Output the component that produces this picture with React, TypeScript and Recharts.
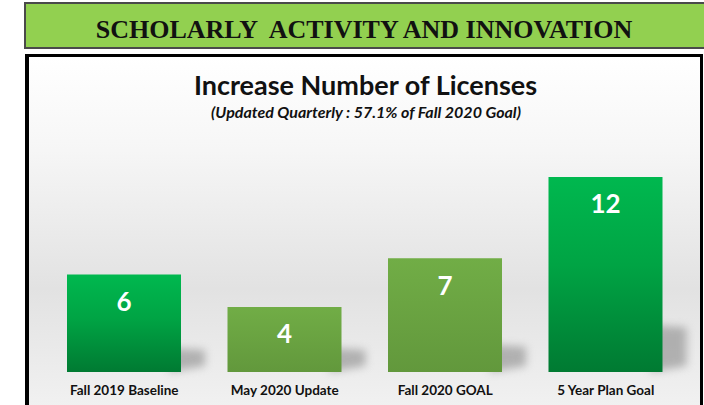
import React from "react";
import { BarChart, Bar, XAxis, YAxis, Cell, LabelList } from "recharts";

const categories = ["Fall 2019 Baseline", "May 2020 Update", "Fall 2020 GOAL", "5 Year Plan Goal"];
const values = [6, 4, 7, 12];
const barStyles = ["bright", "olive", "olive", "bright"];
const yTicks = [0, 12];

const data = categories.map((name, i) => ({ name, value: values[i], style: barStyles[i] }));

const ShadowBar = (props: any) => {
  const { x, y, width, height, fill } = props;
  if (height <= 0) return null;
  const bottom = y + height;
  const sh = Math.max(24, height * 0.24);
  const pts = [
    [x + width - 12, bottom],
    [x + width - 12, bottom - sh],
    [x + width + 24, bottom - sh + 2],
    [x + width + 24, bottom - 6],
  ]
    .map((p) => p.join(","))
    .join(" ");
  return (
    <g>
      <polygon points={pts} fill="#8a8a8a" opacity={0.6} filter="url(#blurShadow)" />
      <rect x={x} y={y} width={width} height={height} fill={fill} />
    </g>
  );
};

const Tick = (props: any) => {
  const { x, y, payload } = props;
  return (
    <text x={x} y={y + 23} textAnchor="middle" fontFamily="Lato" fontWeight={700} fontSize={13.5} fill="#111">
      {payload.value}
    </text>
  );
};

export default function App() {
  return (
    <div style={{ position: "absolute", left: 0, top: 0, width: 704, height: 405, overflow: "hidden", background: "#fff" }}>
      <div
        style={{
          position: "absolute",
          left: 24,
          top: 2,
          width: 690,
          height: 47,
          background: "#92d050",
          border: "2px solid #4a4a4a",
          boxSizing: "border-box",
          borderRight: "none",
        }}
      />
      <div
        style={{
          position: "absolute",
          left: 0,
          top: 6,
          width: 728,
          height: 47,
          display: "flex",
          alignItems: "center",
          justifyContent: "center",
          fontFamily: "'Liberation Serif', serif",
          fontWeight: 700,
          fontSize: 26,
          color: "#111",
          whiteSpace: "pre",
        }}
      >
        {"SCHOLARLY  ACTIVITY AND INNOVATION"}
      </div>
      <div
        style={{
          position: "absolute",
          left: 25,
          top: 54,
          width: 678,
          height: 380,
          boxSizing: "border-box",
          border: "3px solid #000",
          borderLeftWidth: 4,
          background: "linear-gradient(to bottom, #ffffff 0%, #f6f6f6 25%, #e2e2e2 62%, #f4f4f4 100%)",
        }}
      />
      <div
        style={{
          position: "absolute",
          left: 0,
          top: 71,
          width: 731,
          textAlign: "center",
          fontFamily: "Lato",
          fontWeight: 700,
          fontSize: 27,
          lineHeight: "27px",
          color: "#111",
          whiteSpace: "nowrap",
        }}
      >
        Increase Number of Licenses
      </div>
      <div
        style={{
          position: "absolute",
          left: 0,
          top: 104,
          width: 732,
          textAlign: "center",
          fontFamily: "Lato",
          fontWeight: 700,
          fontStyle: "italic",
          fontSize: 16,
          lineHeight: "16px",
          color: "#111",
          whiteSpace: "nowrap",
        }}
      >
        (Updated Quarterly : 57.1% of Fall 2020 Goal)
      </div>
      <div style={{ position: "absolute", left: 0, top: 0 }}>
        <BarChart
          width={704}
          height={405}
          data={data}
          margin={{ top: 177, right: 18, bottom: 0, left: 44 }}
          barSize={114}
        >
          <defs>
            <linearGradient id="gradBright" x1="0" y1="0" x2="0" y2="1">
              <stop offset="0%" stopColor="#00b84f" />
              <stop offset="45%" stopColor="#00a444" />
              <stop offset="100%" stopColor="#007a32" />
            </linearGradient>
            <linearGradient id="gradOlive" x1="0" y1="0" x2="0" y2="1">
              <stop offset="0%" stopColor="#71ad46" />
              <stop offset="100%" stopColor="#62983c" />
            </linearGradient>
            <filter id="blurShadow" x="-50%" y="-50%" width="200%" height="200%">
              <feGaussianBlur stdDeviation="4" />
            </filter>
          </defs>
          <XAxis
            dataKey="name"
            axisLine={false}
            tickLine={false}
            tickSize={0}
            tickMargin={0}
            height={33}
            tick={<Tick />}
            interval={0}
          />
          <YAxis hide domain={[0, 12]} ticks={yTicks} />
          <Bar dataKey="value" isAnimationActive={false} shape={<ShadowBar />}>
            {data.map((d, i) => (
              <Cell key={i} fill={d.style === "bright" ? "url(#gradBright)" : "url(#gradOlive)"} />
            ))}
            <LabelList
              dataKey="value"
              position="insideTop"
              offset={18}
              fill="#fff"
              fontFamily="Lato"
              fontWeight={700}
              fontSize={26}
            />
          </Bar>
        </BarChart>
      </div>
    </div>
  );
}
